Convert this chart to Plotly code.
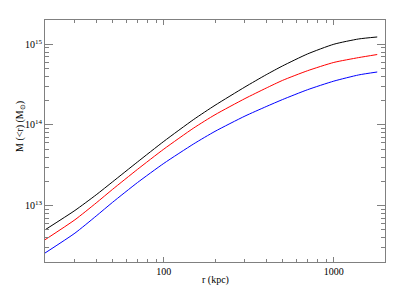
import plotly.graph_objects as go

r_kpc = [20, 30, 40, 50, 70, 100, 150, 200, 300, 400, 500, 700, 1000, 1400, 1800]
m_black = [5.01e12, 8.71e12, 1.361e13, 1.975e13, 3.475e13, 6.26e13, 1.171e14, 1.752e14,
           2.956e14, 4.194e14, 5.398e14, 7.586e14, 1.001e15, 1.164e15, 1.232e15]
m_red = [3.772e12, 6.677e12, 1.079e13, 1.594e13, 2.814e13, 5.017e13, 9.175e13, 1.338e14,
         2.123e14, 2.864e14, 3.573e14, 4.699e14, 5.957e14, 6.839e14, 7.464e14]
m_blue = [2.584e12, 4.558e12, 7.434e12, 1.101e13, 1.931e13, 3.339e13, 5.830e13, 8.329e13,
          1.288e14, 1.690e14, 2.067e14, 2.732e14, 3.494e14, 4.169e14, 4.535e14]

x_major = [100, 1000]
x_major_text = ["100", "1000"]
x_minor = [20, 30, 40, 50, 60, 70, 80, 90, 200, 300, 400, 500, 600, 700, 800, 900]
y_major = [1e13, 1e14, 1e15]
y_major_text = ["10<sup>13</sup>", "10<sup>14</sup>", "10<sup>15</sup>"]
y_minor = [k * 10 ** e for e in (12, 13, 14) for k in range(2, 10)] + [2e15]

x_title = "r (kpc)"
y_title = "M (&lt;r) (M<sub>⊙</sub>)"

fig = go.Figure()
for ys, col in ((m_black, "black"), (m_red, "#ff0000"), (m_blue, "#0000ff")):
    fig.add_trace(go.Scatter(x=r_kpc, y=ys, mode="lines",
                             line=dict(color=col, width=1, shape="spline", smoothing=0.6),
                             showlegend=False, hoverinfo="skip"))

axis_common = dict(showgrid=False, zeroline=False, showline=True, linecolor="#808080",
                   linewidth=1, mirror="allticks", ticks="inside", tickcolor="#808080",
                   tickwidth=1, automargin=False,
                   tickfont=dict(family="Liberation Serif", size=10, color="black"))

fig.update_xaxes(type="log", range=[1.30103, 3.30103], tickvals=x_major,
                 ticktext=x_major_text, ticklen=5,
                 minor=dict(tickvals=x_minor, ticks="inside", ticklen=3,
                            tickcolor="#808080", tickwidth=1),
                 **axis_common)
fig.update_yaxes(type="log", range=[12.30103, 15.30103], tickvals=y_major,
                 ticktext=y_major_text, ticklen=8,
                 minor=dict(tickvals=y_minor, ticks="inside", ticklen=4,
                            tickcolor="#808080", tickwidth=1),
                 **axis_common)

title_font = dict(family="Liberation Serif", size=10, color="black")
fig.add_annotation(text=x_title, xref="paper", yref="paper", x=0.5, y=-0.0744,
                   xanchor="center", yanchor="middle", showarrow=False, font=title_font)
fig.add_annotation(text=y_title, xref="paper", yref="paper", x=-0.0706, y=0.562,
                   xanchor="center", yanchor="middle", textangle=-90, showarrow=False,
                   font=title_font)

fig.update_layout(width=399, height=308, margin=dict(l=45, r=14, t=20, b=46),
                  paper_bgcolor="white", plot_bgcolor="white",
                  font=dict(family="Liberation Serif", size=10, color="black"))

fig.write_html("out.html", config={"displayModeBar": False},
               post_script="document.body.style.margin='0px';")
